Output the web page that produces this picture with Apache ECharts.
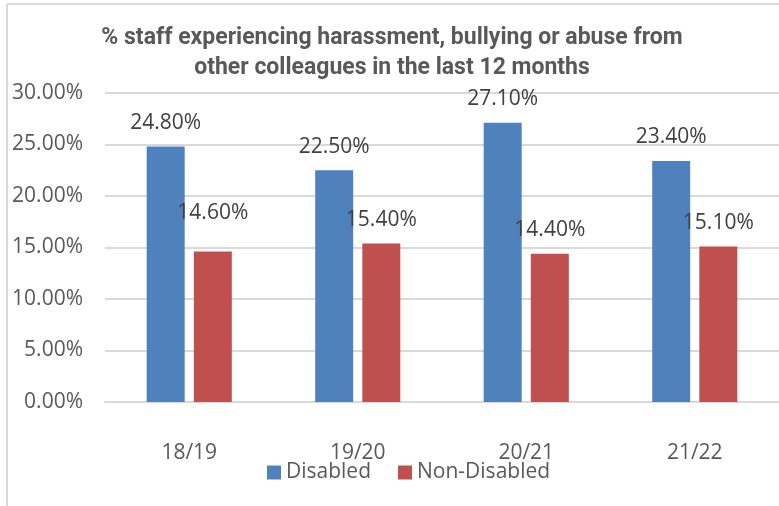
<!DOCTYPE html>
<html><head><meta charset="utf-8">
<script src="https://cdn.jsdelivr.net/npm/echarts@6/dist/echarts.min.js"></script>
<style>html,body{margin:0;padding:0;background:#fff}#c{width:779px;height:506px}</style>
</head><body><div id="c"></div>
<script>
const categories = ['18/19', '19/20', '20/21', '21/22'];
const disabled = [24.8, 22.5, 27.1, 23.4];
const nonDisabled = [14.6, 15.4, 14.4, 15.1];
const seriesNames = ['Disabled', 'Non-Disabled'];
const titleLines = ['% staff experiencing harassment, bullying or abuse from', 'other colleagues in the last 12 months'];

const chart = echarts.init(document.getElementById('c'), null, {renderer: 'canvas'});
const txt = '#595959';
const lblFont = 'Open Sans';
const fs = 21;
const fmt = p => p.value.toFixed(2) + '%';
function labelData(arr, extra) {
  return arr.map((v, i) => {
    const o = {value: v};
    if (extra && extra[i]) o.label = {distance: extra[i]};
    return o;
  });
}
chart.setOption({
  animation: false,
  title: {
    text: titleLines.join('\n'),
    left: 387, top: 18, textAlign: 'center',
    textStyle: {fontFamily: 'Roboto', fontWeight: 'bold', fontSize: 23, color: txt, lineHeight: 30}
  },
  graphic: [
    {type: 'line', shape: {x1: 7, y1: 4, x2: 7, y2: 506}, style: {stroke: '#d9d9d9', lineWidth: 2}},
    {type: 'line', shape: {x1: 7, y1: 4, x2: 779, y2: 4}, style: {stroke: '#d9d9d9', lineWidth: 2}}
  ],
  legend: {
    data: seriesNames, top: 457, left: 262, itemWidth: 14, itemHeight: 14, itemGap: 27,
    icon: 'rect',
    textStyle: {fontFamily: lblFont, fontSize: fs, color: txt}
  },
  grid: {left: 105, right: 0, top: 93, bottom: 104, containLabel: false},
  xAxis: {
    type: 'category', data: categories,
    axisLine: {lineStyle: {color: '#d9d9d9', width: 2}},
    axisTick: {show: false},
    axisLabel: {fontFamily: lblFont, fontSize: fs, color: txt, margin: 41}
  },
  yAxis: {
    type: 'value', min: 0, max: 30, interval: 5,
    axisLine: {show: false}, axisTick: {show: false},
    splitLine: {lineStyle: {color: '#d9d9d9', width: 2}},
    axisLabel: {fontFamily: lblFont, fontSize: fs, color: txt, margin: 22, formatter: v => v.toFixed(2) + '%'}
  },
  series: [
    {name: seriesNames[0], type: 'bar', data: labelData(disabled), barWidth: 38, barGap: '24%',
     itemStyle: {color: '#4F81BD'},
     label: {show: true, position: 'top', distance: 13, formatter: fmt, fontFamily: lblFont, fontSize: fs, color: '#404040'}},
    {name: seriesNames[1], type: 'bar', data: labelData(nonDisabled, [28, 0, 0, 0]), barWidth: 38,
     itemStyle: {color: '#C0504D'},
     label: {show: true, position: 'top', distance: 13, formatter: fmt, fontFamily: lblFont, fontSize: fs, color: '#404040'}}
  ]
});
</script></body></html>
